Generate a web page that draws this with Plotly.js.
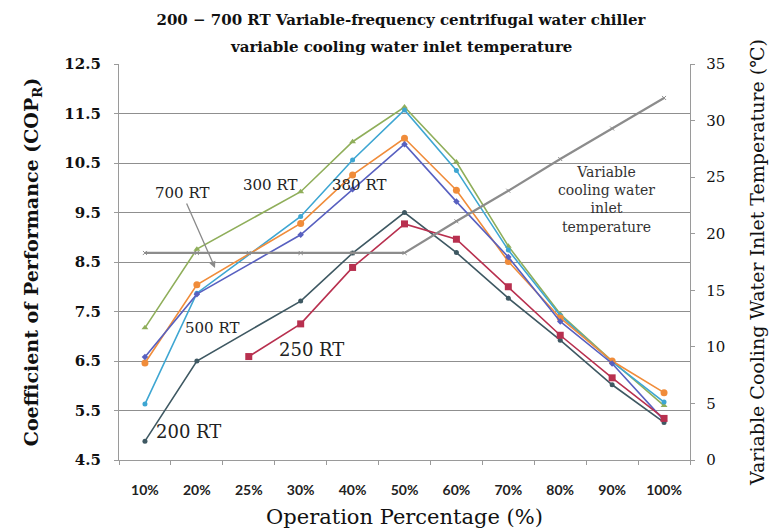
<!DOCTYPE html>
<html>
<head>
<meta charset="utf-8">
<script src="https://cdn.plot.ly/plotly-3.0.1.min.js"></script>
<style>
html,body{margin:0;padding:0;background:#fff;}
#chart{width:774px;height:531px;}
</style>
</head>
<body>
<div id="chart"></div>
<script>
const categories = ['10%','20%','25%','30%','40%','50%','60%','70%','80%','90%','100%'];
const cop200 = [4.88, 6.50, null, 7.71, 8.68, 9.50, 8.69, 7.77, 6.92, 6.02, 5.26];
const cop250 = [null, null, 6.59, 7.25, 8.39, 9.27, 8.96, 8.00, 7.02, 6.16, 5.34];
const cop300 = [7.17, 8.76, null, 9.92, 10.93, 11.63, 10.52, 8.82, 7.45, 6.50, 5.60];
const cop380 = [6.46, 8.04, null, 9.28, 10.26, 11.00, 9.95, 8.51, 7.37, 6.50, 5.86];
const cop500 = [5.63, 7.87, null, 9.42, 10.56, 11.57, 10.35, 8.74, 7.42, 6.48, 5.67];
const cop700 = [6.58, 7.85, null, 9.05, 9.97, 10.88, 9.72, 8.60, 7.30, 6.45, 5.30];
const inletTemp = [18.3, 18.3, 18.3, 18.3, 18.3, 18.3, 21.1, 23.8, 26.6, 29.3, 32.0];

const serif = '"DejaVu Serif", "Liberation Serif", serif';

function series(name, y, color, symbol, size) {
  return {
    type: 'scatter', mode: 'lines+markers', name: name,
    x: categories, y: y, connectgaps: true,
    line: {color: color, width: 1.6},
    marker: {color: color, symbol: symbol, size: size},
    hoverinfo: 'x+y+name'
  };
}

const traces = [
  {
    type: 'scatter', mode: 'lines+markers', name: 'Variable cooling water inlet temperature',
    x: categories, y: inletTemp, yaxis: 'y2',
    line: {color: '#8c8c8c', width: 2.2},
    marker: {color: '#8c8c8c', symbol: 'x-thin', size: 4, line: {color: '#8c8c8c', width: 1}}
  },
  series('300 RT', cop300, '#8fae5a', 'triangle-up', 6),
  series('500 RT', cop500, '#3ea6d2', 'circle', 5),
  series('380 RT', cop380, '#f08c3a', 'circle', 7),
  series('700 RT', cop700, '#5860c0', 'diamond', 5),
  series('200 RT', cop200, '#3e5862', 'circle', 5),
  series('250 RT', cop250, '#b8304f', 'square', 7)
];

const W = 571, H = 396.8, L = 119, B = 460.5;
function px(x){ return (x - L) / W; }
function py(y){ return (B - y) / H; }

const labelFont = {family: serif, size: 15, color: '#222'};
function label(text, x, y, font) {
  return {text: text, xref: 'paper', yref: 'paper', x: px(x), y: py(y),
          xanchor: 'center', yanchor: 'middle', showarrow: false, font: font || labelFont};
}
const annotations = [
  label('variable cooling water inlet temperature', 401, 47,
        {family: serif, size: 15, color: '#111', weight: 'bold'}),
  {text: '700 RT', xref: 'paper', yref: 'paper', x: px(215), y: py(268), ax: -33, ay: -75,
   xanchor: 'center', yanchor: 'middle',
   showarrow: true, arrowhead: 2, arrowsize: 1, arrowwidth: 1.3, arrowcolor: '#8a8a8a', standoff: 0,
   font: labelFont},
  label('300 RT', 270, 185),
  label('380 RT', 359, 185),
  label('500 RT', 212, 328),
  label('250 RT', 311, 350, {family: serif, size: 18, color: '#222'}),
  label('200 RT', 188, 432, {family: serif, size: 18, color: '#222'}),
  Object.assign(label('Variable<br>cooling water<br>inlet<br>temperature', 606, 199,
        {family: serif, size: 14, color: '#333'}), {align: 'center'})
];

const layout = {
  width: 774, height: 531,
  margin: {l: 119, r: 84, t: 64, b: 70.5},
  paper_bgcolor: '#ffffff', plot_bgcolor: '#ffffff',
  showlegend: false,
  title: {
    text: '200 − 700 RT Variable-frequency centrifugal water chiller',
    font: {family: serif, size: 15, color: '#111', weight: 'bold'},
    x: 0.518, xref: 'container', xanchor: 'center',
    y: 1 - 20 / 531, yref: 'container', yanchor: 'middle'
  },
  xaxis: {
    type: 'category', range: [-0.5, 10.5],
    showline: true, linecolor: '#9a9a9a', linewidth: 1.3,
    showgrid: false, zeroline: false,
    ticks: 'outside', tickson: 'boundaries', ticklen: 4, tickcolor: '#9a9a9a',
    ticklabelstandoff: 17,
    tickfont: {family: 'Lato, "Liberation Sans", sans-serif', size: 14, color: '#222', weight: 'bold'},
    title: {text: 'Operation Percentage (%)', standoff: 12,
            font: {family: serif, size: 21, color: '#111'}}
  },
  yaxis: {
    range: [4.5, 12.5], tick0: 4.5, dtick: 1,
    showline: true, linecolor: '#9a9a9a', linewidth: 1.3,
    showgrid: true, gridcolor: '#8f8f8f', gridwidth: 1.4, zeroline: false,
    ticks: 'outside', ticklen: 4, tickcolor: '#9a9a9a',
    ticklabelstandoff: 10,
    tickformat: '.1f',
    tickfont: {family: serif, size: 15, color: '#111', weight: 'bold'},
    title: {text: 'Coefficient of Performance (COP<sub>R</sub>)', standoff: 20,
            font: {family: serif, size: 19, color: '#111', weight: 'bold'}}
  },
  yaxis2: {
    overlaying: 'y', side: 'right', range: [0, 35], dtick: 5,
    showline: true, linecolor: '#9a9a9a', linewidth: 1.3,
    showgrid: false, zeroline: false,
    ticks: 'outside', ticklen: 4, tickcolor: '#9a9a9a',
    ticklabelstandoff: 8,
    tickfont: {family: serif, size: 15, color: '#111'},
    title: {text: 'Variable Cooling Water Inlet Temperature (℃)', standoff: 26,
            font: {family: serif, size: 19, color: '#111'}}
  },
  annotations: annotations
};

Plotly.newPlot('chart', traces, layout, {displayModeBar: false, responsive: false});
</script>
</body>
</html>
